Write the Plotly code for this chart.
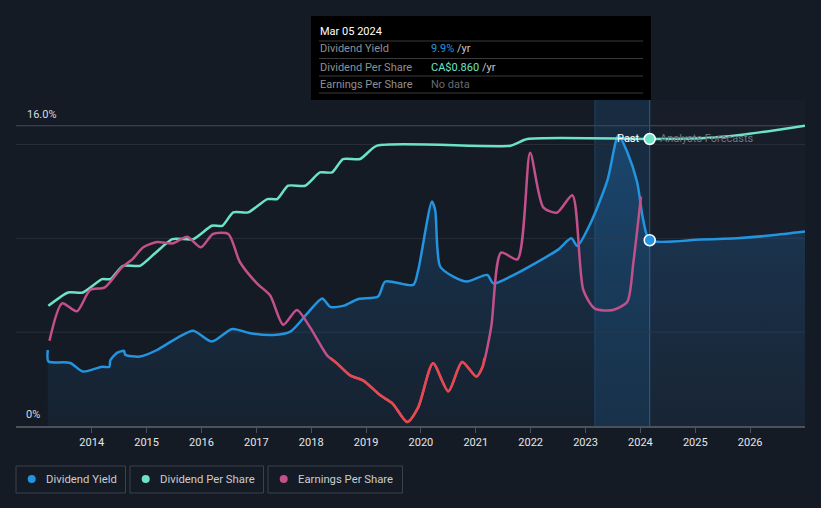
import plotly.graph_objects as go

# ---------------- data ----------------
yield_x = [2013.20, 2013.21, 2013.61, 2013.84, 2014.19, 2014.32, 2014.34, 2014.46, 2014.59, 2014.61,
           2014.88, 2015.19, 2015.56, 2015.85, 2016.19, 2016.56, 2016.89, 2017.31, 2017.62, 2017.93,
           2018.20, 2018.35, 2018.58, 2018.86, 2019.22, 2019.35, 2019.86, 2019.95, 2020.20, 2020.26,
           2020.35, 2020.59, 2020.84, 2021.21, 2021.32, 2021.63, 2022.04, 2022.50, 2022.74, 2022.85,
           2023.09, 2023.40, 2023.60, 2023.76, 2023.94, 2024.05, 2024.17,
           2025.10, 2025.82, 2026.40, 2027.00]
yield_pct = [4.05, 3.45, 3.36, 2.90, 3.16, 3.15, 3.50, 3.90, 4.00, 3.80,
             3.70, 4.05, 4.70, 5.08, 4.50, 5.17, 4.94, 4.85, 5.03, 6.00,
             6.80, 6.35, 6.40, 6.77, 6.90, 7.70, 7.52, 8.30, 11.96, 11.50,
             8.50, 7.96, 7.70, 8.05, 7.60, 7.96, 8.60, 9.40, 10.00, 9.60,
             10.80, 13.10, 15.50, 14.60, 13.00, 11.00, 9.90,
             9.94, 10.02, 10.16, 10.36]

dps_x = [2013.21, 2013.57, 2013.84, 2014.19, 2014.34, 2014.57, 2014.88, 2015.17, 2015.47, 2015.85,
         2016.19, 2016.38, 2016.58, 2016.85, 2017.20, 2017.38, 2017.58, 2017.89, 2018.16, 2018.38,
         2018.58, 2018.89, 2019.20, 2021.63, 2021.94, 2024.17,
         2025.10, 2025.82, 2026.40, 2027.00]
dps_cad = [0.36, 0.40, 0.40, 0.44, 0.44, 0.48, 0.48, 0.52, 0.56, 0.56,
           0.60, 0.60, 0.64, 0.64, 0.68, 0.68, 0.72, 0.72, 0.76, 0.76,
           0.80, 0.80, 0.84, 0.84, 0.86, 0.86,
           0.862, 0.872, 0.885, 0.900]

eps_x = [2013.23, 2013.46, 2013.73, 2013.97, 2014.24, 2014.55, 2014.74, 2014.94, 2015.19, 2015.48,
         2015.74, 2015.99, 2016.21, 2016.49, 2016.70, 2017.01, 2017.25, 2017.49, 2017.74, 2017.98,
         2018.29, 2018.47, 2018.71, 2018.95, 2019.26, 2019.48, 2019.75, 2019.95, 2020.22, 2020.50,
         2020.75, 2021.01, 2021.12, 2021.28, 2021.46, 2021.76, 2021.99, 2022.23, 2022.48, 2022.76,
         2022.96, 2023.17, 2023.50, 2023.76, 2023.87, 2024.01]
eps_cad = [0.13, 0.41, 0.35, 0.51, 0.53, 0.68, 0.74, 0.83, 0.87, 0.86,
           0.91, 0.83, 0.93, 0.93, 0.72, 0.56, 0.47, 0.25, 0.36, 0.23,
           0.02, -0.04, -0.13, -0.17, -0.28, -0.34, -0.48, -0.37, -0.04, -0.25,
           -0.03, -0.14, -0.07, 0.23, 0.79, 0.74, 1.54, 1.13, 1.09, 1.22,
           0.51, 0.37, 0.36, 0.42, 0.71, 1.21]

tick_years = [2014, 2015, 2016, 2017, 2018, 2019, 2020, 2021, 2022, 2023, 2024, 2025, 2026]
tick_labels = [str(y) for y in tick_years]

hover_date = "Mar 05 2024"
hover_x = 2024.17
hover_yield = 9.9
hover_dps = 0.86
band_start = 2023.17

# ---------------- layout geometry ----------------
W, H = 821, 508
ML, MR, MT, MB = 16, 16, 107, 82
PW, PH = W - ML - MR, H - MT - MB
X_RANGE = [2012.62, 2027.0]
Y_RANGE = [0, 17]

def pxx(px):
    return (px - ML) / PW

def pxy(py):
    return (H - MB - py) / PH

# DPS axis: 0 at bottom, 0.86 at y=139
dps_per_px = 0.86 / (426 - 139)
dps_range = [0, (426 - MT) * dps_per_px]
# EPS axis: 0 at y=358, 0.0075 per px
eps_per_px = 0.0075
eps_range = [(358 - 426) * eps_per_px, (358 - MT) * eps_per_px]

BLUE = "#2394df"
TEAL = "#6ce3c6"
MAG = "#c2508a"
RED = "#e5484d"
BG = "#151b24"

fig = go.Figure()

# yield with fill
fig.add_trace(go.Scatter(
    x=yield_x, y=yield_pct, mode="lines",
    line=dict(color=BLUE, width=2.5, shape="spline", smoothing=0.7),
    fill="tozeroy",
    fillgradient=dict(type="vertical",
                      colorscale=[[0, "rgba(35,120,200,0.07)"], [1, "rgba(35,140,230,0.28)"]],
                      start=0, stop=16),
    hoverinfo="skip", showlegend=False))

# EPS magenta
fig.add_trace(go.Scatter(
    x=eps_x, y=eps_cad, yaxis="y3", mode="lines",
    line=dict(color=MAG, width=2.5, shape="spline", smoothing=0.7),
    hoverinfo="skip", showlegend=False))

# EPS red overlay where negative
aug_x, aug_y = [], []
for i in range(len(eps_x)):
    if i > 0:
        y0, y1 = eps_cad[i - 1], eps_cad[i]
        if (y0 < 0) != (y1 < 0):
            t = y0 / (y0 - y1)
            aug_x.append(eps_x[i - 1] + t * (eps_x[i] - eps_x[i - 1]))
            aug_y.append(0.0)
    aug_x.append(eps_x[i])
    aug_y.append(eps_cad[i])
red_y = [v if v <= 0 else None for v in aug_y]
fig.add_trace(go.Scatter(
    x=aug_x, y=red_y, yaxis="y3", mode="lines",
    line=dict(color=RED, width=2.5, shape="spline", smoothing=0.7),
    connectgaps=False, hoverinfo="skip", showlegend=False))

# DPS teal
fig.add_trace(go.Scatter(
    x=dps_x, y=dps_cad, yaxis="y2", mode="lines",
    line=dict(color=TEAL, width=2.5, shape="spline", smoothing=0.6),
    hoverinfo="skip", showlegend=False))

# hover dots
fig.add_trace(go.Scatter(
    x=[hover_x], y=[hover_yield], mode="markers",
    marker=dict(color=BLUE, size=11, line=dict(color="white", width=1.5)),
    hoverinfo="skip", showlegend=False))
fig.add_trace(go.Scatter(
    x=[hover_x], y=[hover_dps], yaxis="y2", mode="markers",
    marker=dict(color=TEAL, size=11, line=dict(color="white", width=1.5)),
    hoverinfo="skip", showlegend=False))

shapes = []
# future region lighter
shapes.append(dict(type="rect", xref="x", yref="paper", x0=hover_x, x1=X_RANGE[1], y0=0, y1=pxy(100),
                   fillcolor="#181e29", line=dict(width=0), layer="below"))
# past band
shapes.append(dict(type="rect", xref="x", yref="paper", x0=band_start, x1=hover_x, y0=0, y1=pxy(100),
                   fillcolor="rgba(35,130,210,0.17)", line=dict(width=0), layer="below"))
shapes.append(dict(type="line", xref="x", yref="paper", x0=band_start, x1=band_start, y0=0, y1=pxy(100),
                   line=dict(color="rgba(50,120,180,0.35)", width=1), layer="below"))
shapes.append(dict(type="line", xref="x", yref="paper", x0=hover_x, x1=hover_x, y0=0, y1=pxy(100),
                   line=dict(color="rgba(60,140,200,0.55)", width=1), layer="below"))
# gridlines
for gv in [5, 10, 15]:
    shapes.append(dict(type="line", xref="paper", yref="y", x0=0, x1=1, y0=gv, y1=gv,
                       line=dict(color="#272e39", width=1), layer="below"))
shapes.append(dict(type="line", xref="paper", yref="y", x0=0, x1=1, y0=16, y1=16,
                   line=dict(color="#434a56", width=1), layer="below"))

# tooltip box
shapes.append(dict(type="rect", xref="paper", yref="paper", x0=pxx(311), x1=pxx(651), y0=pxy(100), y1=pxy(16),
                   fillcolor="#000000", line=dict(width=0), layer="above"))
for sy in [41, 58.5, 76, 93]:
    shapes.append(dict(type="line", xref="paper", yref="paper", x0=pxx(319), x1=pxx(643), y0=pxy(sy), y1=pxy(sy),
                       line=dict(color="#3a3a3a", width=1), layer="above"))

# legend boxes
legend_items = [("Dividend Yield", BLUE, 16, 125.5), ("Dividend Per Share", TEAL, 130, 263.5),
                ("Earnings Per Share", MAG, 268, 402.5)]
annotations = []
for name, col, bx0, bx1 in legend_items:
    shapes.append(dict(type="rect", xref="paper", yref="paper", x0=pxx(bx0), x1=pxx(bx1), y0=pxy(493), y1=pxy(466),
                       fillcolor="rgba(0,0,0,0)", line=dict(color="#3b424e", width=1)))
    shapes.append(dict(type="circle", xref="paper", yref="paper", x0=pxx(bx0 + 11.7), x1=pxx(bx0 + 19.7),
                       y0=pxy(483), y1=pxy(475), fillcolor=col, line=dict(width=0)))
    annotations.append(dict(xref="paper", yref="paper", x=pxx(bx0 + 27.5), y=pxy(479.5), text=name,
                            showarrow=False, xanchor="left", yanchor="middle",
                            font=dict(family="Roboto", size=11.3, color="#c9cdd3")))

# y labels
annotations.append(dict(xref="paper", yref="paper", x=pxx(25), y=pxy(114), text="16.0%", showarrow=False,
                        xanchor="left", yanchor="middle", font=dict(family="Roboto", size=11, color="#d8dce0")))
annotations.append(dict(xref="paper", yref="paper", x=pxx(24), y=pxy(414), text="0%", showarrow=False,
                        xanchor="left", yanchor="middle", font=dict(family="Roboto", size=11, color="#d8dce0")))

# past / forecast labels
annotations.append(dict(xref="paper", yref="paper", x=pxx(642), y=pxy(138.5), text="Past", showarrow=False,
                        xanchor="right", yanchor="middle", font=dict(family="Roboto", size=11, color="#ffffff")))
annotations.append(dict(xref="paper", yref="paper", x=pxx(658), y=pxy(138.5), text="Analysts Forecasts",
                        showarrow=False, xanchor="left", yanchor="middle",
                        font=dict(family="Roboto", size=11, color="#6f7782")))

# tooltip texts
annotations.append(dict(xref="paper", yref="paper", x=pxx(318), y=pxy(31), text=hover_date, showarrow=False,
                        xanchor="left", yanchor="middle", font=dict(family="Roboto", size=11, color="#ffffff")))
rows = [("Dividend Yield", f"<span style='color:{BLUE}'>{hover_yield:.1f}%</span> /yr", 49),
        ("Dividend Per Share", f"<span style='color:{TEAL}'>CA${hover_dps:.3f}</span> /yr", 67),
        ("Earnings Per Share", "<span style='color:#666a70'>No data</span>", 84.5)]
for lab, val, ry in rows:
    annotations.append(dict(xref="paper", yref="paper", x=pxx(318), y=pxy(ry), text=lab, showarrow=False,
                            xanchor="left", yanchor="middle", font=dict(family="Roboto", size=11, color="#8d9196")))
    annotations.append(dict(xref="paper", yref="paper", x=pxx(429), y=pxy(ry), text=val, showarrow=False,
                            xanchor="left", yanchor="middle", font=dict(family="Roboto", size=11, color="#c8c8c8")))

fig.update_layout(
    width=W, height=H,
    margin=dict(l=ML, r=MR, t=MT, b=MB, pad=0),
    paper_bgcolor=BG, plot_bgcolor=BG,
    showlegend=False, hovermode=False,
    xaxis=dict(range=X_RANGE, tickvals=tick_years, ticktext=tick_labels, showgrid=False, zeroline=False,
               showline=True, linecolor="#4b525e", linewidth=1.5, ticks="outside", ticklen=5,
               tickcolor="#4b525e", tickfont=dict(family="Roboto", size=11, color="#e3e6ea")),
    yaxis=dict(range=Y_RANGE, visible=False, fixedrange=True),
    yaxis2=dict(range=dps_range, overlaying="y", visible=False),
    yaxis3=dict(range=eps_range, overlaying="y", visible=False),
    shapes=shapes, annotations=annotations,
)

fig.write_html("out.html", config={"displayModeBar": False, "staticPlot": True})
